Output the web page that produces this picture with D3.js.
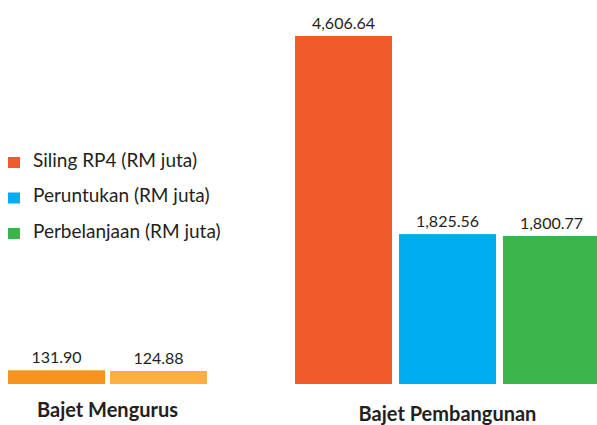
<!DOCTYPE html>
<html>
<head>
<meta charset="utf-8">
<script src="https://cdn.jsdelivr.net/npm/d3@7"></script>
<style>
  body { margin: 0; background: #fff; }
  text { font-family: Lato, "Open Sans", sans-serif; fill: #231f20; }
</style>
</head>
<body>
<svg></svg>
<script>
const W = 597
const H = 425

// data
const groups = ['Bajet Mengurus', 'Bajet Pembangunan']
const mengurusSeries = ['Siling', 'Perbelanjaan']
const mengurusValues = [131.90, 124.88]
const mengurusColors = ['#f7941d', '#fbb040']
const pembangunanSeries = ['Siling RP4 (RM juta)', 'Peruntukan (RM juta)', 'Perbelanjaan (RM juta)']
const pembangunanValues = [4606.64, 1825.56, 1800.77]
const pembangunanColors = ['#f15a2b', '#00aeef', '#39b54a']

const BASE = 384
const TOP = 36
const fmt = d3.format(',.2f')

const svg = d3.select('svg')
    .attr('width', W)
    .attr('height', H)

// infographic is not linear, a power scale fits it best
const y = d3.scalePow()
    .exponent(0.91)
    .domain([0, d3.max(pembangunanValues)])
    .range([BASE, TOP])

const xM = d3.scaleBand()
    .domain(mengurusSeries)
    .range([8, 207])
    .paddingInner(0.049)

const xP = d3.scaleBand()
    .domain(pembangunanSeries)
    .range([295, 600])
    .paddingInner(0.0673)

function drawGroup(series, values, colors, x, label, labelY) {
    const data = series.map((s, i) => ({ s, v: values[i], c: colors[i] }))
    const g = svg.append('g')
    g.selectAll('rect')
        .data(data)
        .enter()
        .append('rect')
        .attr('x', d => x(d.s))
        .attr('y', d => y(d.v))
        .attr('width', x.bandwidth())
        .attr('height', d => BASE - y(d.v))
        .attr('fill', d => d.c)
    g.selectAll('text.val')
        .data(data)
        .enter()
        .append('text')
        .attr('class', 'val')
        .attr('x', d => x(d.s) + x.bandwidth() / 2)
        .attr('y', d => y(d.v) - 7)
        .attr('text-anchor', 'middle')
        .style('font-size', '16px')
        .text(d => fmt(d.v))
    const r = x.range()
    g.append('text')
        .attr('x', (r[0] + r[1]) / 2)
        .attr('y', labelY)
        .attr('text-anchor', 'middle')
        .style('font-size', '20px')
        .style('font-weight', 'bold')
        .text(label)
}

drawGroup(mengurusSeries, mengurusValues, mengurusColors, xM, groups[0], 417)
drawGroup(pembangunanSeries, pembangunanValues, pembangunanColors, xP, groups[1], 421)

// legend
const legend = svg.append('g')
    .selectAll('g')
    .data(pembangunanSeries)
    .enter()
    .append('g')
    .attr('transform', (d, i) => `translate(8, ${157 + i * 35.5})`)
legend.append('rect')
    .attr('width', 12)
    .attr('height', 11)
    .attr('fill', (d, i) => pembangunanColors[i])
legend.append('text')
    .attr('x', 25)
    .attr('y', 9.5)
    .style('font-size', '19px')
    .text(d => d)
</script>
</body>
</html>
